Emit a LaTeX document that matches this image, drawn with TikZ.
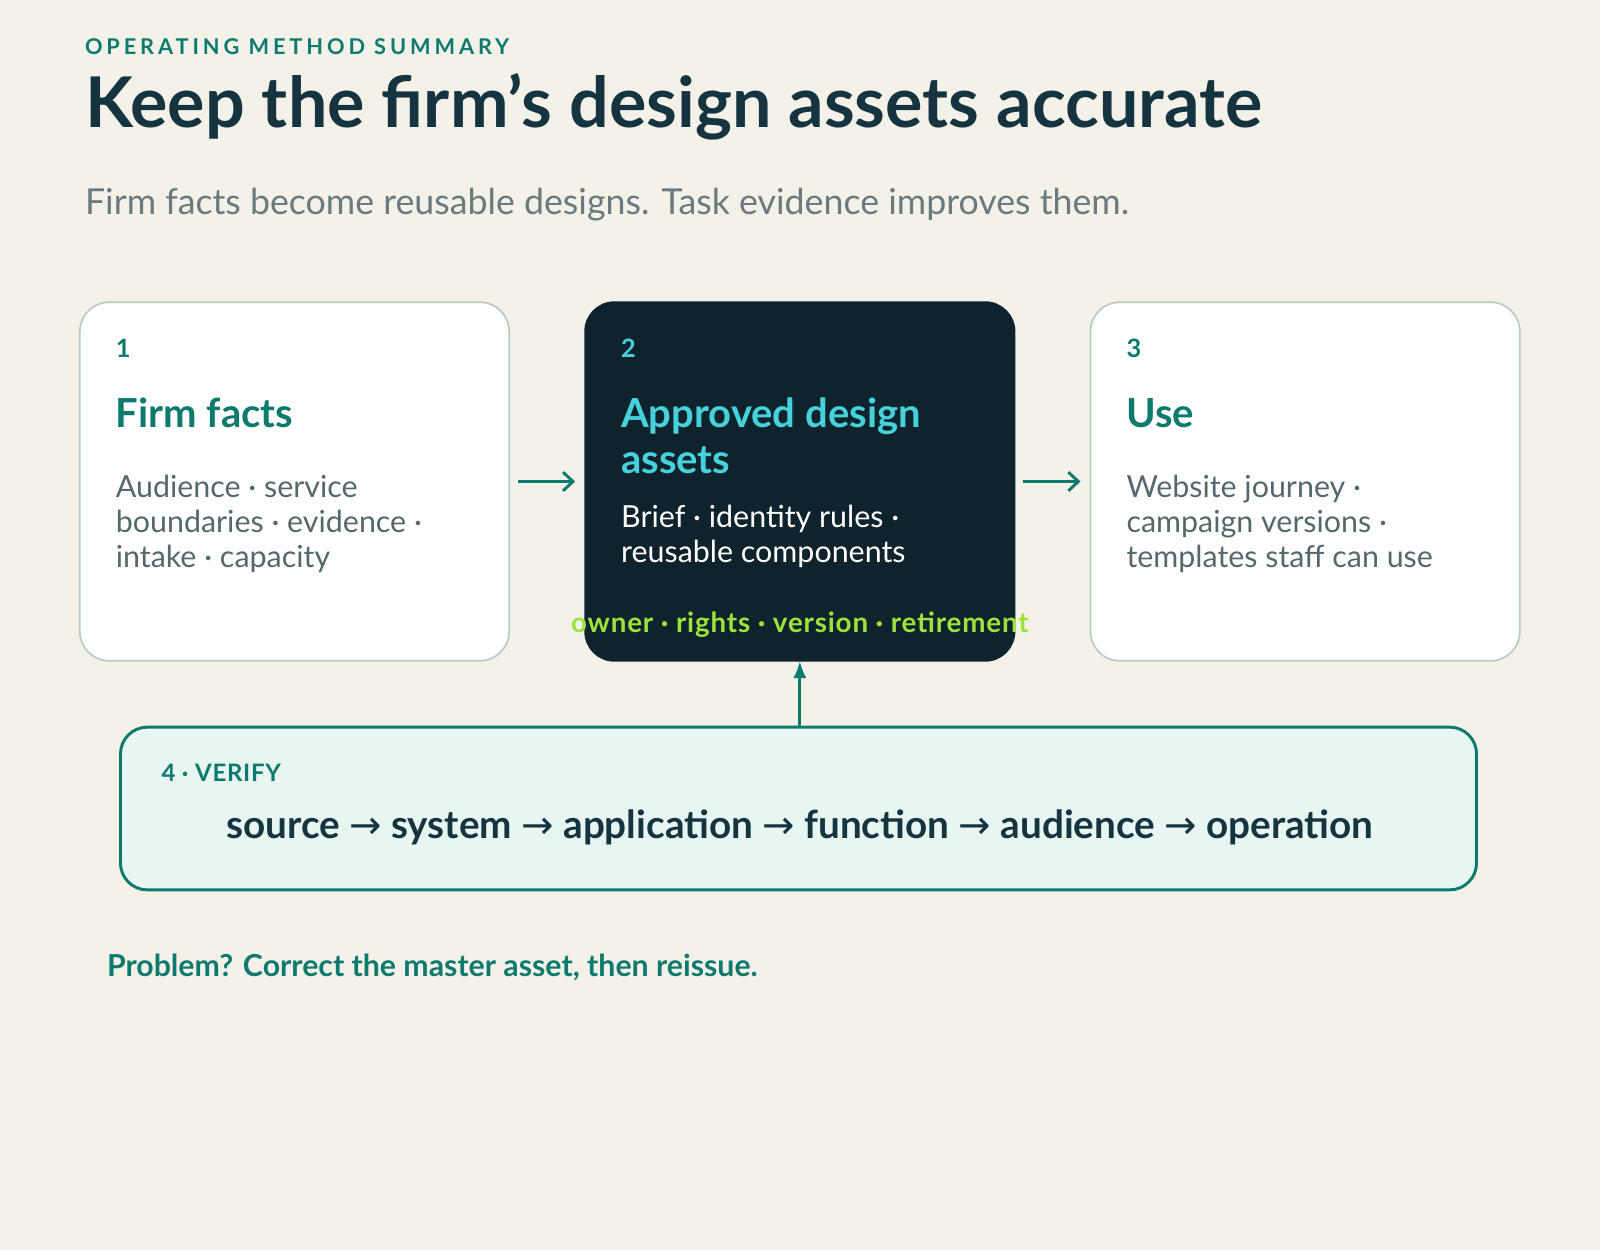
\documentclass[tikz,border=0pt]{standalone}
\usepackage{fontspec}
\setmainfont{Lato}
\newfontfamily\arrowfont{DejaVu Sans}
\usetikzlibrary{positioning,calc,arrows.meta}
\definecolor{paper}{HTML}{F4F1E9}
\definecolor{brandteal}{HTML}{0E7A6E}
\definecolor{ink}{HTML}{163440}
\definecolor{subgray}{HTML}{6A7A7E}
\definecolor{bodygray}{HTML}{56686C}
\definecolor{cardline}{HTML}{BACBC6}
\definecolor{night}{HTML}{0F232C}
\definecolor{cyanhead}{HTML}{46D2DD}
\definecolor{lime}{HTML}{9CE43D}
\definecolor{mint}{HTML}{E7F6F1}
\tikzstyle{card} = [draw=cardline, line width=1.3pt, fill=white, rounded corners=22pt,
minimum width=322pt, minimum height=269pt]
\tikzstyle{line} = [draw, -{Straight Barb[length=7.5pt,width=14pt,line width=2.2pt]}, color=brandteal, line width=2.2pt]
\newcommand{\sep}{{\arrowfont\mdseries →}}

\begin{document}
\begin{tikzpicture}[x=0.75pt, y=-0.75pt,
	every node/.style={inner sep=0pt, outer sep=0pt},
	num/.style={anchor=base west, font=\fontsize{19}{19}\bfseries},
	head/.style={anchor=base west, align=left, font=\fontsize{30}{34.5}\bfseries},
	body/.style={anchor=base west, align=left, font=\fontsize{22.8}{26.25}\selectfont}]
	\useasboundingbox[fill=paper] (0,0) rectangle (1600,1250);
	%% Titles
	\node[anchor=base west, text=brandteal, font=\fontsize{16.3}{16.3}\bfseries\addfontfeature{LetterSpace=18}] (eyebrow) at (85,54) {OPERATING METHOD SUMMARY};
	\node[anchor=base west, text=ink, font=\fontsize{52.5}{52.5}\bfseries] (title) at (85,127) {Keep the firm’s design assets accurate};
	\node[anchor=base west, text=subgray, font=\fontsize{26.8}{26.8}\selectfont] (subtitle) at (85,214) {Firm facts become reusable designs. Task evidence improves them.};
	%% Cards
	\node[card] (facts) at (294.5,481.5) {};
	\node[card, right=57pt of facts, fill=night, draw=night] (assets) {};
	\node[card, right=57pt of assets] (use) {};
	% multi-line nodes sit on their last line
	\node[num, text=brandteal] (n1) at ($(facts.north west)+(36,55)$) {1};
	\node[head, text=brandteal] (h1) at ($(facts.north west)+(36,125)$) {Firm facts};
	\node[body, text=bodygray] (b1) at ($(facts.north west)+(36,265)$) {Audience · service\\boundaries · evidence ·\\intake · capacity};
	\node[num, text=cyanhead] (n2) at ($(assets.north west)+(36,55)$) {2};
	\node[head, text=cyanhead] (h2) at ($(assets.north west)+(36,171)$) {Approved design\\assets};
	\node[body, text=white] (b2) at ($(assets.north west)+(36,260)$) {Brief · identity rules ·\\reusable components};
	\node[anchor=base, text=lime, font=\fontsize{20.8}{20.8}\bfseries\addfontfeature{LetterSpace=3}] (checks) at ($(assets.north)+(0,330)$) {owner · rights · version · retirement};
	\node[num, text=brandteal] (n3) at ($(use.north west)+(36,55)$) {3};
	\node[head, text=brandteal] (h3) at ($(use.north west)+(36,125)$) {Use};
	\node[body, text=bodygray] (b3) at ($(use.north west)+(36,265)$) {Website journey ·\\campaign versions ·\\templates staff can use};
	%% Verify loop
	\node[draw=brandteal, line width=2.2pt, fill=mint, rounded corners=20pt,
	minimum width=1017pt, minimum height=122pt] (verify) at (798.5,808.5) {};
	\node[anchor=base west, text=brandteal, font=\fontsize{18}{18}\bfseries\addfontfeature{LetterSpace=3}] (vlabel) at ($(verify.north west)+(41,54)$) {4 · VERIFY};
	\node[anchor=base, text=ink, font=\fontsize{29}{29}\bfseries] (chain) at (800,838) {source \sep{} system \sep{} application \sep{} function \sep{} audience \sep{} operation};
	\node[anchor=base west, text=brandteal, font=\fontsize{22.7}{22.7}\bfseries] (problem) at (107,976) {Problem? Correct the master asset, then reissue.};
	%% Flows
	\path [line, shorten <=9pt*0.75, shorten >=10pt*0.75] (facts) -- (assets);
	\path [line, shorten <=8pt*0.75, shorten >=10pt*0.75] (assets) -- (use);
	\path [draw, brandteal, line width=2.4pt, -{Latex[length=13pt,width=10pt]}] (verify.north -| assets.south) -- (assets.south);
\end{tikzpicture}
\end{document}
